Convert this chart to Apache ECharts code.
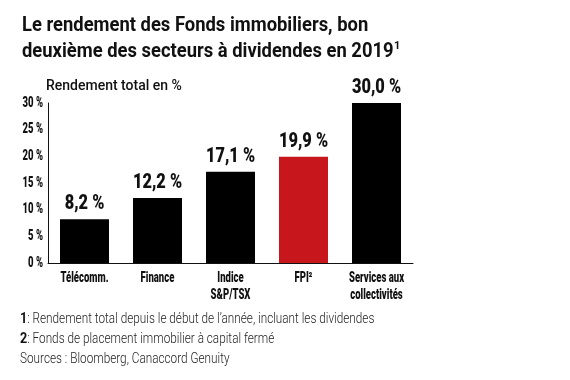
<!DOCTYPE html>
<html><head><meta charset="utf-8">
<script src="https://cdn.jsdelivr.net/npm/echarts@6/dist/echarts.min.js"></script>
<style>html,body{margin:0;padding:0;background:#fff}#c{width:570px;height:380px}</style>
</head><body><div id="c"></div>
<script>
const categories = ['Télécomm.', 'Finance', 'Indice\nS&P/TSX', 'FPI²', 'Services aux\ncollectivités'];
const values = [8.2, 12.2, 17.1, 19.9, 30.0];
const highlightIndex = 3;
const yTicks = [0, 5, 10, 15, 20, 25, 30];

const chart = echarts.init(document.getElementById('c'), null, {renderer: 'canvas'});
const foot = {b: {font: "bold 15px Roboto", fill: '#111'}, r: {font: "300 14px Roboto", fill: '#222'}};
function txt(x, y, text, size, sx, align, valign, lh) {
  return {type: 'text', x: x, y: y, scaleX: sx,
    style: {text: text, fontSize: size, fontWeight: 900, fontFamily: 'Roboto', fill: '#111',
            align: align, verticalAlign: valign,
            textAlign: align, textVerticalAlign: valign, lineHeight: lh}};
}
chart.setOption({
  backgroundColor: '#fff',
  animation: false,
  grid: {left: 48, right: 157, top: 103, bottom: 117},
  graphic: [
    {type: 'text', x: 22, y: 16, scaleX: 0.92, style: {text: 'Le rendement des Fonds immobiliers, bon', font: "bold 20px Roboto", fill: '#111'}},
    {type: 'text', x: 22, y: 42, scaleX: 0.92, style: {text: 'deuxième des secteurs à dividendes en 2019', font: "bold 20px Roboto", fill: '#111'}},
    {type: 'text', x: 394, y: 41, style: {text: '1', font: "bold 11px Roboto", fill: '#111'}},
    {type: 'text', x: 46, y: 79, style: {text: 'Rendement total en %', font: "500 14px Roboto", fill: '#111'}},
    {type: 'text', x: 20, y: 312, scaleX: 0.84, style: {rich: foot, text: '{b|1}{r|: Rendement total depuis le début de l\u2019année, incluant les dividendes}'}},
    {type: 'text', x: 20, y: 332, scaleX: 0.84, style: {rich: foot, text: '{b|2}{r|: Fonds de placement immobilier à capital fermé}'}},
    {type: 'text', x: 20, y: 352, scaleX: 0.84, style: {text: 'Sources : Bloomberg, Canaccord Genuity', font: "300 14px Roboto", fill: '#222'}}
  ],
  xAxis: {
    type: 'category',
    data: categories,
    axisLine: {show: true, lineStyle: {color: '#111', width: 1}},
    axisTick: {show: false},
    axisLabel: {show: false}
  },
  yAxis: {
    type: 'value', min: 0, max: 30, interval: 5,
    axisLine: {show: true, lineStyle: {color: '#111', width: 1}},
    axisTick: {show: false},
    splitLine: {show: false},
    axisLabel: {show: false}
  },
  series: [{
    type: 'bar',
    barWidth: 49,
    data: values.map((v, i) => ({value: v, itemStyle: {color: i === highlightIndex ? '#c8161d' : '#000'}}))
  }, {
    type: 'custom',
    clip: false,
    data: values.map((v, i) => [i, v]),
    renderItem: function (params, api) {
      const i = api.value(0), v = api.value(1);
      const top = api.coord([i, v]);
      const base = api.coord([i, 0]);
      return {type: 'group', children: [
        txt(top[0], top[1] - 5, v.toFixed(1).replace('.', ',') + ' %', 21, 0.78, 'center', 'bottom'),
        txt(base[0], base[1] + 7, categories[i], 14, 0.68, 'center', 'top', 17)
      ]};
    }
  }, {
    type: 'custom',
    clip: false,
    data: yTicks.map(v => [0, v]),
    renderItem: function (params, api) {
      const v = api.value(1);
      const p = api.coord([0, v]);
      return txt(params.coordSys.x - 5, p[1], v + ' %', 14, 0.68, 'right', 'middle');
    }
  }]
});
</script></body></html>
